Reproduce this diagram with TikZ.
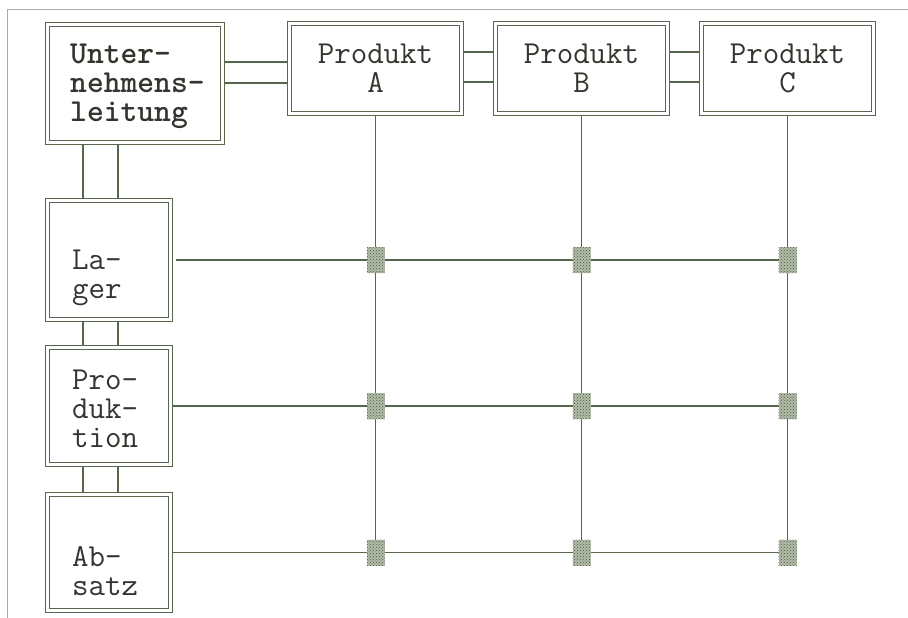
\documentclass[tikz,border=0pt]{standalone}
\usepackage{fontspec}
\usetikzlibrary{patterns,backgrounds}
\definecolor{linecol}{RGB}{88,102,80}
\definecolor{txtcol}{RGB}{50,54,46}
\definecolor{framecol}{RGB}{170,174,165}
\definecolor{sqfill}{RGB}{178,188,168}
\definecolor{sqdot}{RGB}{72,88,66}
\newcommand\lblfont{\ttfamily\fontsize{32}{29}\selectfont}
\begin{document}
\begin{tikzpicture}[x=1pt,y=-1pt,
  box/.style={draw=linecol, double=white, double distance=2.4pt, line width=1.1pt, fill=white, inner sep=0pt},
  conn/.style={draw=linecol, line width=1.4pt},
  lbl/.style={text=txtcol, font=\lblfont, inner sep=0pt, align=left},
  lblb/.style={lbl, font=\lblfont\bfseries},
  prod/.style={box, minimum width=172pt, minimum height=90pt, text=txtcol, font=\lblfont, align=center},
  dept/.style={box, minimum width=123pt},
  knot/.style={minimum width=18pt, minimum height=26pt, inner sep=0pt, fill=sqfill, draw=none, postaction={pattern=crosshatch dots, pattern color=sqdot}}
]
\useasboundingbox (0,0) rectangle (908,618);
% frame
\coordinate (f1) at (7,618);
\coordinate (f2) at (7,10);
\coordinate (f3) at (908,10);
\draw[framecol, line width=1pt] (f1) -- (f2) -- (f3);

% boxes
\node[box, minimum width=175pt, minimum height=118pt] (u) at (135,83.5) {};
\node[lblb, anchor=west] (ut) at (70,86) {Unter-\\nehmens-\\leitung};
\node[prod] (a) at (375.5,68.5) {Produkt\\A};
\node[prod] (b) at (581.5,68.5) {Produkt\\B};
\node[prod] (c) at (787.5,68.5) {Produkt\\C};
\node[dept, minimum height=119pt] (lager) at (109,260) {};
\node[lbl, anchor=west] (lt) at (72,278) {La-\\ger};
\node[dept, minimum height=117pt] (prodk) at (109,406) {};
\node[lbl, anchor=west] (pt) at (72,409) {Pro-\\duk-\\tion};
\node[dept, minimum height=116pt] (abs) at (109,552.5) {};
\node[lbl, anchor=west] (at) at (72,571) {Ab-\\satz};

% connectors
\begin{scope}[on background layer]
  \draw[conn] (u.east |- 0,62) -- (a.west |- 0,62);
  \draw[conn] (u.east |- 0,83) -- (a.west |- 0,83);
  \draw[conn] (a.east |- 0,52) -- (b.west |- 0,52);
  \draw[conn] (a.east |- 0,82) -- (b.west |- 0,82);
  \draw[conn] (b.east |- 0,52) -- (c.west |- 0,52);
  \draw[conn] (b.east |- 0,82) -- (c.west |- 0,82);
  \draw[conn] (u.south -| 83,0) -- (lager.north -| 83,0);
  \draw[conn] (u.south -| 118,0) -- (lager.north -| 118,0);
  \draw[conn] (lager.south -| 83,0) -- (prodk.north -| 83,0);
  \draw[conn] (lager.south -| 118,0) -- (prodk.north -| 118,0);
  \draw[conn] (prodk.south -| 83,0) -- (abs.north -| 83,0);
  \draw[conn] (prodk.south -| 118,0) -- (abs.north -| 118,0);
  \draw[conn] ([xshift=5pt]lager.east) -- (lager.east -| c.south);
  \draw[conn] (prodk.east) -- (prodk.east -| c.south);
  \draw[conn] (abs.east) -- (abs.east -| c.south);
  \draw[conn] (a.south) -- (a.south |- abs.east);
  \draw[conn] (b.south) -- (b.south |- abs.east);
  \draw[conn] (c.south) -- (c.south |- abs.east);
\end{scope}

% knots
\node[knot] (k11) at (a.south |- lager.east) {};
\node[knot] (k12) at (b.south |- lager.east) {};
\node[knot] (k13) at (c.south |- lager.east) {};
\node[knot] (k21) at (a.south |- prodk.east) {};
\node[knot] (k22) at (b.south |- prodk.east) {};
\node[knot] (k23) at (c.south |- prodk.east) {};
\node[knot] (k31) at (a.south |- abs.east) {};
\node[knot] (k32) at (b.south |- abs.east) {};
\node[knot] (k33) at (c.south |- abs.east) {};
\end{tikzpicture}
\end{document}
